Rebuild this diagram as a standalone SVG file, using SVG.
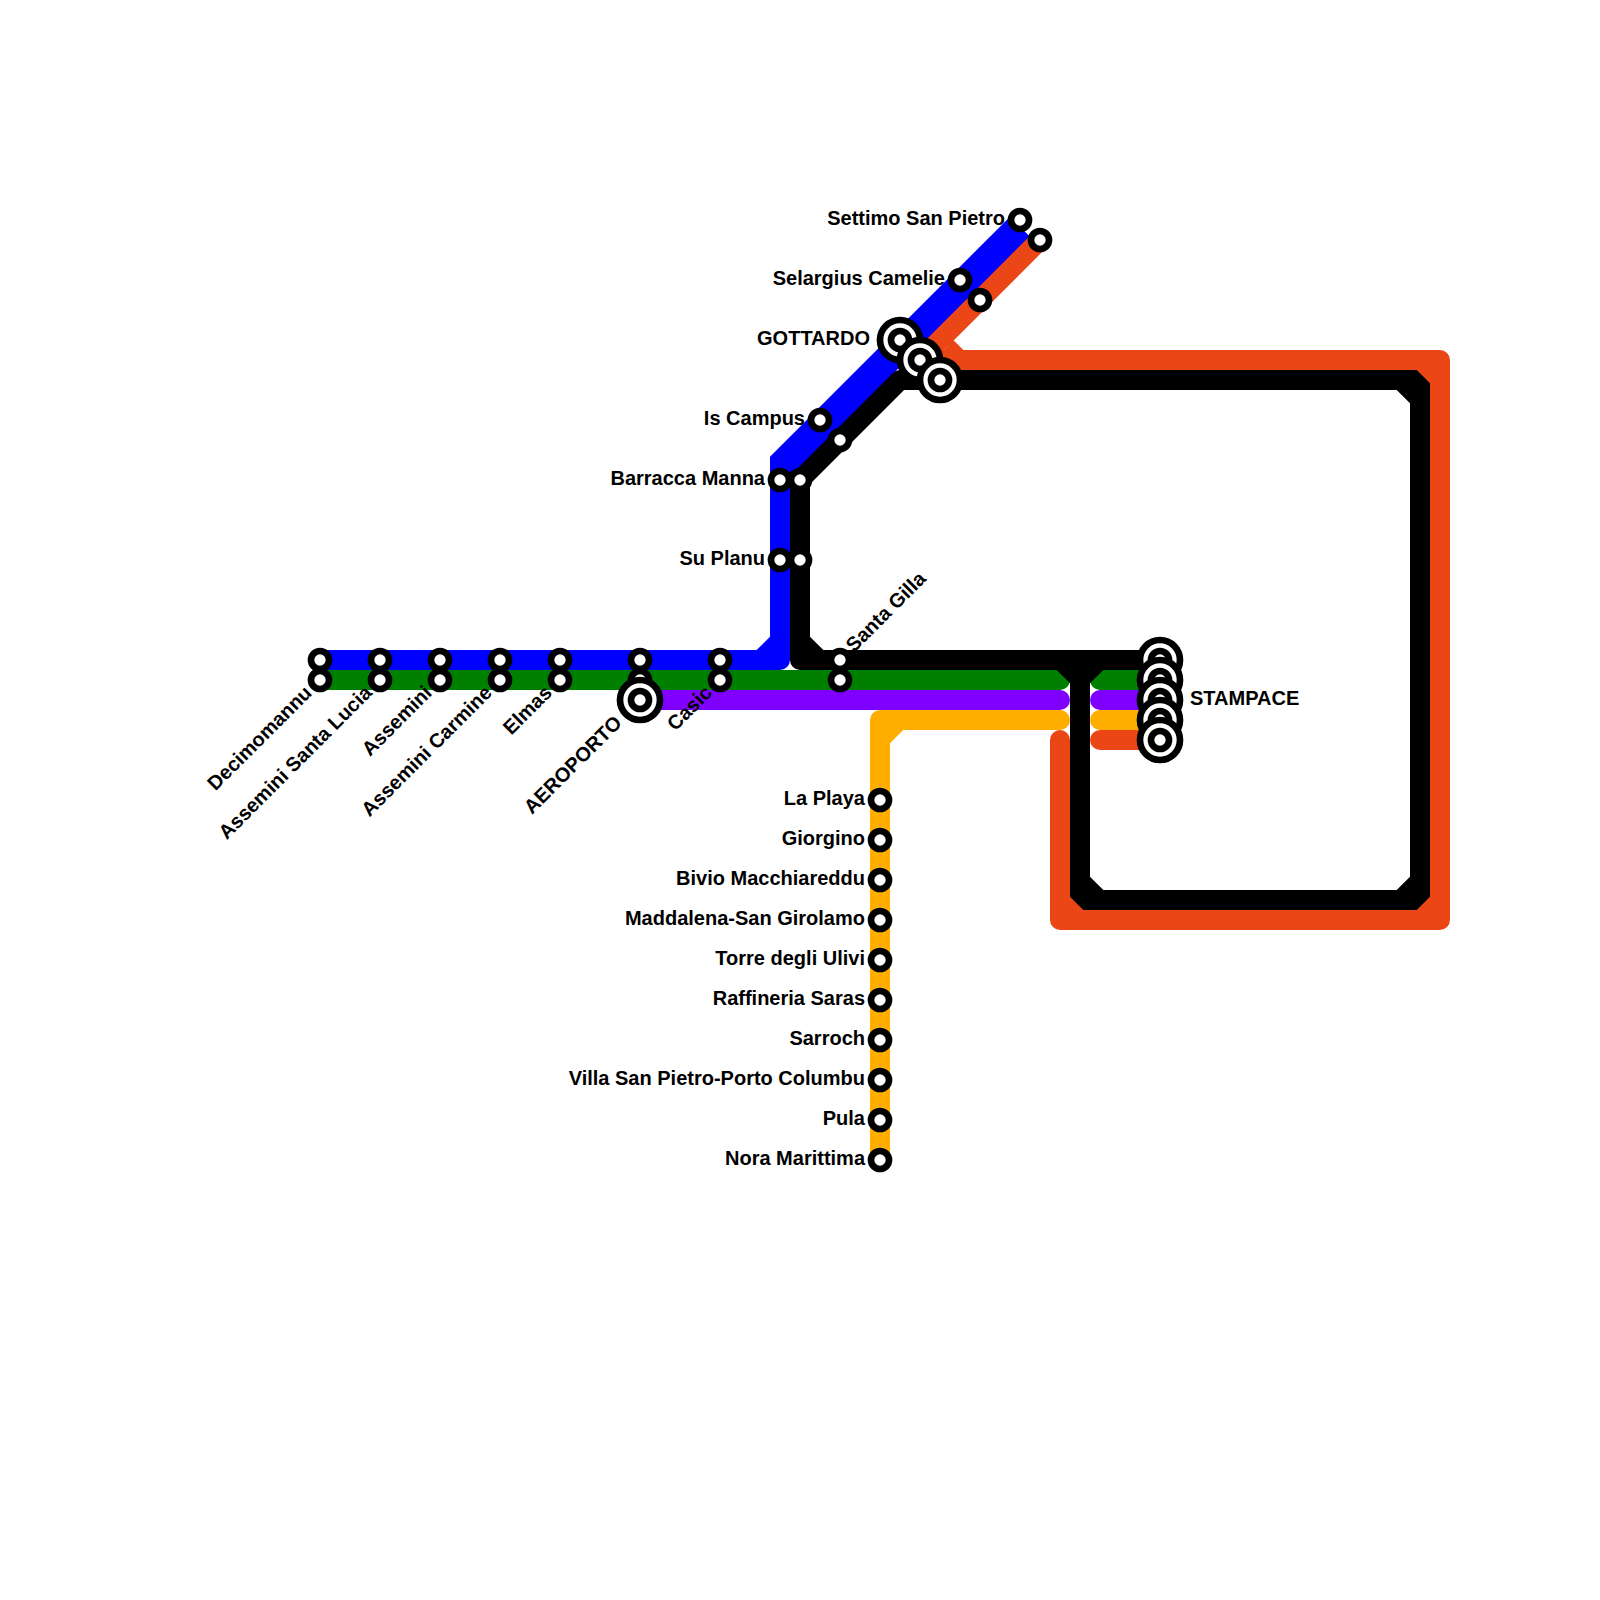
<svg xmlns="http://www.w3.org/2000/svg" width="1600" height="1600" viewBox="0 0 1600 1600">
<style>
.l{fill:none;stroke-width:20;stroke-linecap:round;stroke-linejoin:round}
.blue{stroke:#0000ff}.green{stroke:#008000}.purple{stroke:#8000ff}.yellow{stroke:#ffae00}.orange{stroke:#eb4716}.black{stroke:#000}
.fb{fill:#0000ff}.fy{fill:#ffae00}.fo{fill:#eb4716}.fk{fill:#000}
.s{fill:#fff;stroke:#000;stroke-width:6.67}
.o{fill:#fff;stroke:#000;stroke-width:6.67}
text{font-family:"Liberation Sans",Arial,sans-serif;font-weight:bold;font-size:20px;fill:#000}
.e{text-anchor:end}
</style>
<defs>
<g id="st"><circle class="s" r="9"/></g>
<g id="ix"><circle class="o" r="20"/><circle class="s" r="9"/></g>
</defs>
<rect width="1600" height="1600" fill="#fff"/>
<g id="connectors">
<path class="l green" d="M320 680H1060M1100 680H1160"/>
<path class="l purple" d="M640 700H1060M1100 700H1160"/>
<path class="l yellow" d="M880 1160V720H1060M1100 720H1160"/>
<polygon class="fy" points="890,730 903.3,730 890,743.3"/>
<path class="l blue" d="M320 660H780V470"/>
<polygon class="fb" points="756.7,650 770,636.7 770,650"/>
<polygon class="fb" points="770,456.7 1010,216.7 1030,236.7 790,476.7 770,476.7"/>
<path class="l black" d="M1160 660H800V480L900 380H1420V900H1080V660"/>
<polygon class="fk" points="810,636.7 810,650 823.3,650"/>
<polygon class="fk" points="1396.7,390 1410,390 1410,403.3"/>
<polygon class="fk" points="1410,876.7 1410,890 1396.7,890"/>
<polygon class="fk" points="1090,876.7 1090,890 1103.3,890"/>
<polygon class="fk" points="1056.7,670 1070,670 1070,683.3"/>
<polygon class="fk" points="1103.3,670 1090,670 1090,683.3"/>
<path class="l orange" d="M1040 240L920 360H1440V920H1060V740M1100 740H1160"/>
<polygon class="fo" points="944,350 953.3,340 963.3,350"/>
<polygon class="fo" points="1416.7,370 1430,370 1430,383.3"/>
<polygon class="fo" points="1430,896.7 1430,910 1416.7,910"/>
<polygon class="fo" points="1070,896.7 1070,910 1083.3,910"/>
</g>
<g id="n-settimo"><use href="#st" x="1020" y="220"/><text class="e" x="1005" y="225">Settimo San Pietro</text></g>
<g id="n-settimo-o"><use href="#st" x="1040" y="240"/></g>
<g id="n-selargius"><use href="#st" x="960" y="280"/><text class="e" x="945" y="285">Selargius Camelie</text></g>
<g id="n-selargius-o"><use href="#st" x="980" y="300"/></g>
<g id="n-iscampus"><use href="#st" x="820" y="420"/><text class="e" x="805" y="425">Is Campus</text></g>
<g id="n-iscampus-k"><use href="#st" x="840" y="440"/></g>
<g id="n-barracca"><use href="#st" x="780" y="480"/><text class="e" x="765" y="485">Barracca Manna</text></g>
<g id="n-barracca-k"><use href="#st" x="800" y="480"/></g>
<g id="n-suplanu"><use href="#st" x="780" y="560"/><text class="e" x="765" y="565">Su Planu</text></g>
<g id="n-suplanu-k"><use href="#st" x="800" y="560"/></g>
<g id="n-gottardo"><use href="#ix" x="900" y="340"/><text class="e" x="870" y="345">GOTTARDO</text></g>
<g id="n-gottardo-2"><use href="#ix" x="920" y="360"/></g>
<g id="n-gottardo-3"><use href="#ix" x="940" y="380"/></g>
<g id="n-decimomannu"><use href="#st" x="320" y="660"/><use href="#st" x="320" y="680"/><text class="e" transform="translate(313 694) rotate(-45)">Decimomannu</text></g>
<g id="n-santalucia"><use href="#st" x="380" y="660"/><use href="#st" x="380" y="680"/><text class="e" transform="translate(373 694) rotate(-45)">Assemini Santa Lucia</text></g>
<g id="n-assemini"><use href="#st" x="440" y="660"/><use href="#st" x="440" y="680"/><text class="e" transform="translate(433 694) rotate(-45)">Assemini</text></g>
<g id="n-carmine"><use href="#st" x="500" y="660"/><use href="#st" x="500" y="680"/><text class="e" transform="translate(493 694) rotate(-45)">Assemini Carmine</text></g>
<g id="n-elmas"><use href="#st" x="560" y="660"/><use href="#st" x="560" y="680"/><text class="e" transform="translate(553 694) rotate(-45)">Elmas</text></g>
<g id="n-aeroporto"><use href="#st" x="640" y="660"/><use href="#st" x="640" y="680"/><use href="#ix" x="640" y="700"/><text class="e" transform="translate(623 724) rotate(-45)">AEROPORTO</text></g>
<g id="n-casic"><use href="#st" x="720" y="660"/><use href="#st" x="720" y="680"/><text class="e" transform="translate(713 694) rotate(-45)">Casic</text></g>
<g id="n-santagilla"><use href="#st" x="840" y="660"/><use href="#st" x="840" y="680"/><text transform="translate(854 653) rotate(-45)">Santa Gilla</text></g>
<g id="n-stampace"><use href="#ix" x="1160" y="660"/><use href="#ix" x="1160" y="680"/><use href="#ix" x="1160" y="700"/><use href="#ix" x="1160" y="720"/><use href="#ix" x="1160" y="740"/><text x="1190" y="705">STAMPACE</text></g>
<g id="n-laplaya"><use href="#st" x="880" y="800"/><text class="e" x="865" y="805">La Playa</text></g>
<g id="n-giorgino"><use href="#st" x="880" y="840"/><text class="e" x="865" y="845">Giorgino</text></g>
<g id="n-bivio"><use href="#st" x="880" y="880"/><text class="e" x="865" y="885">Bivio Macchiareddu</text></g>
<g id="n-maddalena"><use href="#st" x="880" y="920"/><text class="e" x="865" y="925">Maddalena-San Girolamo</text></g>
<g id="n-torre"><use href="#st" x="880" y="960"/><text class="e" x="865" y="965">Torre degli Ulivi</text></g>
<g id="n-raffineria"><use href="#st" x="880" y="1000"/><text class="e" x="865" y="1005">Raffineria Saras</text></g>
<g id="n-sarroch"><use href="#st" x="880" y="1040"/><text class="e" x="865" y="1045">Sarroch</text></g>
<g id="n-villa"><use href="#st" x="880" y="1080"/><text class="e" x="865" y="1085">Villa San Pietro-Porto Columbu</text></g>
<g id="n-pula"><use href="#st" x="880" y="1120"/><text class="e" x="865" y="1125">Pula</text></g>
<g id="n-nora"><use href="#st" x="880" y="1160"/><text class="e" x="865" y="1165">Nora Marittima</text></g>
</svg>
